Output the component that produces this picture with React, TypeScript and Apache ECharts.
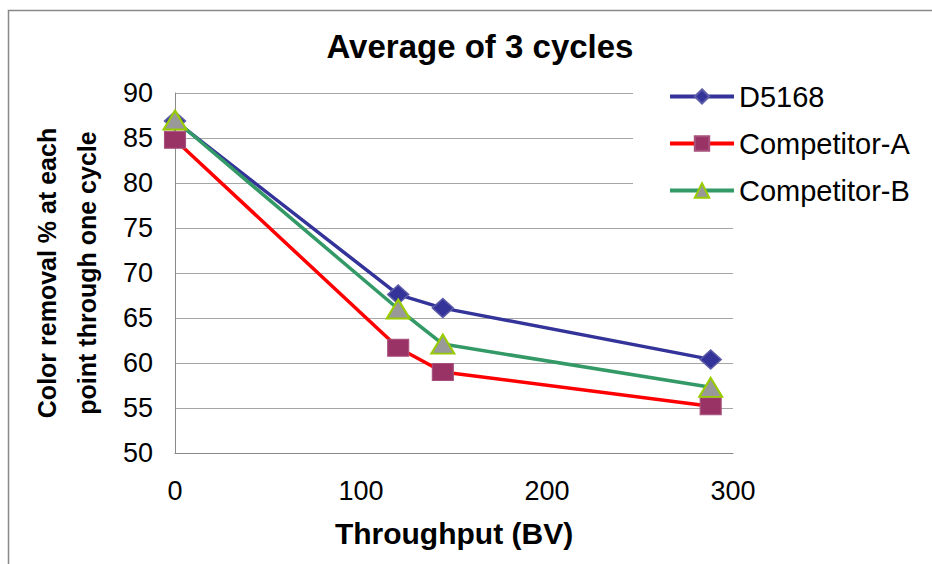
import React, { useEffect, useRef } from "react";
import * as echarts from "echarts";

const throughput = [0, 120, 144, 288];
const d5168 = [86.9, 67.6, 66.1, 60.4];
const competitorA = [84.8, 61.7, 59.0, 55.2];
const competitorB = [87.0, 66.0, 62.1, 57.3];
const seriesNames = ["D5168", "Competitor-A", "Competitor-B"];

const FONT = "'Liberation Sans', Arial, sans-serif";

export default function App() {
  const ref = useRef<HTMLDivElement>(null);
  useEffect(() => {
    if (!ref.current) return;
    const chart = echarts.init(ref.current, undefined, { renderer: "svg" });
    const toPairs = (vals: number[]) => throughput.map((x, i) => [x, vals[i]]);
    chart.setOption({
      animation: false,
      backgroundColor: "#ffffff",
      textStyle: { fontFamily: FONT },
      title: {
        text: "Average of 3 cycles",
        left: 475,
        textAlign: "center",
        top: 25,
        textStyle: { fontFamily: FONT, fontSize: 33, fontWeight: "bold", color: "#000" },
      },
      graphic: [
        {
          type: "rect",
          shape: { x: 8.5, y: 10.5, width: 1000, height: 700 },
          style: { fill: "none", stroke: "#888888", lineWidth: 1.5 },
          silent: true,
        },
      ],
      legend: {
        orient: "vertical",
        left: 633,
        top: 70,
        padding: [12, 10, 8, 35],
        backgroundColor: "#ffffff",
        itemWidth: 64,
        itemHeight: 18,
        itemGap: 18,
        data: seriesNames,
        lineStyle: { width: 4 },
        textStyle: { fontFamily: FONT, fontSize: 29, color: "#000", lineHeight: 28 },
      },
      grid: { left: 175, right: 199, top: 93, bottom: 111 },
      xAxis: {
        type: "value",
        min: 0,
        max: 300,
        interval: 100,
        name: "Throughput (BV)",
        nameLocation: "middle",
        nameGap: 65,
        nameTextStyle: { fontFamily: FONT, fontSize: 30, fontWeight: "bold", color: "#000" },
        axisLine: { show: true, lineStyle: { color: "#888", width: 1 } },
        axisTick: { show: false },
        splitLine: { show: false },
        axisLabel: { fontFamily: FONT, fontSize: 27, color: "#000", margin: 24 },
      },
      yAxis: {
        type: "value",
        min: 50,
        max: 90,
        interval: 5,
        name: "Color removal % at each\npoint through one cycle",
        nameLocation: "middle",
        nameRotate: 90,
        nameGap: 68,
        nameTextStyle: { fontFamily: FONT, fontSize: 25, fontWeight: "bold", color: "#000", lineHeight: 40 },
        axisLine: { show: true, lineStyle: { color: "#888", width: 1 } },
        axisTick: { show: false },
        splitLine: { show: true, lineStyle: { color: "#a6a6a6", width: 1 } },
        axisLabel: { fontFamily: FONT, fontSize: 27, color: "#000", margin: 22 },
      },
      series: [
        {
          name: seriesNames[0],
          type: "line",
          data: toPairs(d5168),
          symbol: "diamond",
          symbolSize: [21, 19],
          lineStyle: { color: "#333399", width: 3.5 },
          itemStyle: { color: "#333399", borderColor: "#5c5ca8", borderWidth: 1.5 },
        },
        {
          name: seriesNames[1],
          type: "line",
          data: toPairs(competitorA),
          symbol: "rect",
          symbolSize: [21, 17],
          lineStyle: { color: "#ff0000", width: 3.5 },
          itemStyle: { color: "#993366", borderColor: "#a8507c", borderWidth: 1 },
        },
        {
          name: seriesNames[2],
          type: "line",
          data: toPairs(competitorB),
          symbol: "triangle",
          symbolSize: [23, 19],
          lineStyle: { color: "#339966", width: 3.5 },
          itemStyle: { color: "#999999", borderColor: "#99cc00", borderWidth: 2 },
        },
      ],
    });
    return () => chart.dispose();
  }, []);
  return (
    <div
      ref={ref}
      style={{ position: "fixed", left: 0, top: 0, width: 932, height: 564 }}
    />
  );
}
